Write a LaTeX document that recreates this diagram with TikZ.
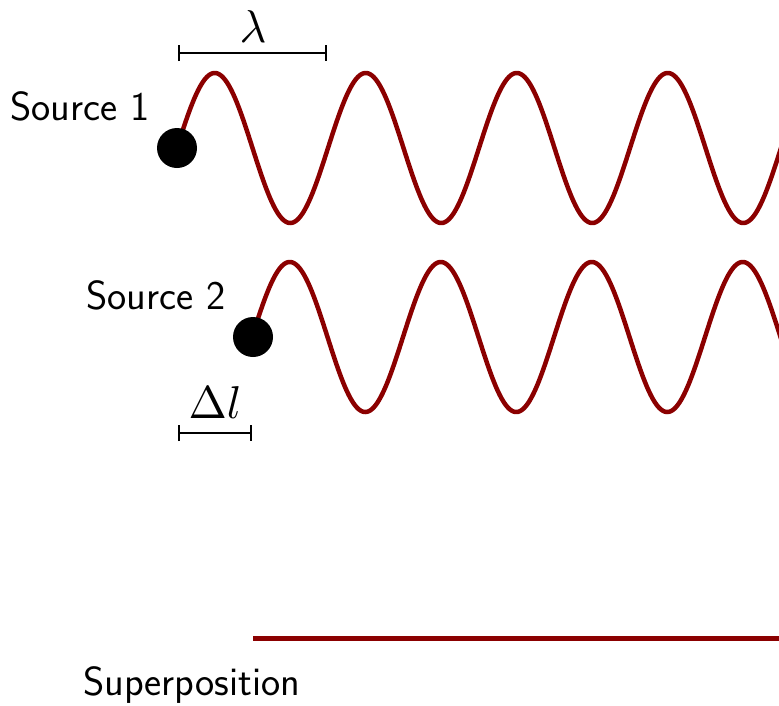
\documentclass[tikz,border=0pt]{standalone}
\usetikzlibrary{arrows.meta}
\definecolor{wavered}{RGB}{139,0,0}
\begin{document}
\begin{tikzpicture}[x=1pt,y=-1pt,
  lbl/.style={font=\sffamily\fontsize{40.7}{48}\selectfont, inner sep=0pt},
  mlbl/.style={inner sep=0pt},
  wave/.style={line width=4.5pt, draw=wavered},
  src/.style={circle, fill=black, minimum size=40pt, inner sep=0pt},
  bar/.style={line width=2pt, {Bar[width=16pt]}-{Bar[width=16pt]}}]
\useasboundingbox (0,0) rectangle (779,705);
\begin{scope}
  \clip (0,0) rectangle (779,705);
  \draw[wave] plot[domain=177:800, samples=500] (\x, {148-75*sin((\x-177)/151*360)});
  \draw[wave] plot[domain=252:800, samples=450] (\x, {337-75*sin((\x-252)/151*360)});
  \coordinate (sp1) at (253,638);
  \coordinate (sp2) at (779,638);
  \draw[line width=5pt, wavered] (sp1) -- (sp2);
\end{scope}
\node[src] (s1) at (177,148) {};
\node[src] (s2) at (253,337) {};
\node[lbl, anchor=base west] (t1) at (10,120) {Source 1};
\node[lbl, anchor=base west] (t2) at (86,309) {Source 2};
\node[lbl, anchor=base west] (t3) at (83,695) {Superposition};
\coordinate (la) at (178,53);
\coordinate (lb) at (327,53);
\draw[bar] (la) -- (lb);
\node[mlbl, anchor=base] (lam) at (253,42) {\scalebox{4.6}{$\lambda$}};
\coordinate (da) at (178,433);
\coordinate (db) at (252,433);
\draw[bar] (da) -- (db);
\node[mlbl, anchor=base] (dl) at (215,418) {\scalebox{4.6}{$\Delta l$}};
\end{tikzpicture}
\end{document}
